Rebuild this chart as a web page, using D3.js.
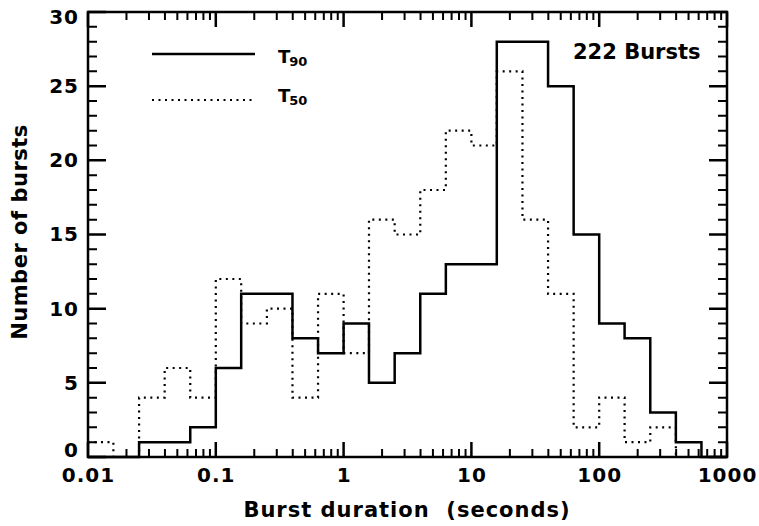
<!DOCTYPE html>
<html>
<head>
<meta charset="utf-8">
<script src="https://cdn.jsdelivr.net/npm/d3@7"></script>
<style>
  body { margin: 0; background: #fff; }
  svg { display: block; }
  text { font-family: "DejaVu Sans", sans-serif; font-weight: bold; fill: #000; }
</style>
</head>
<body>
<script>
/********************************************************/
// histogram data, 5 bins per decade
const binEdges = [0.01, 0.0158, 0.0251, 0.0398, 0.0631, 0.1, 0.158, 0.251, 0.398, 0.631,
  1, 1.58, 2.51, 3.98, 6.31, 10, 15.8, 25.1, 39.8, 63.1, 100, 158, 251, 398, 631, 1000];

const t90Counts = [0, 0, 1, 1, 2, 6, 11, 11, 8, 7, 9, 5, 7, 11, 13, 13, 28, 28, 25, 15, 9, 8, 3, 1, 0];
const t50Counts = [1, 0, 4, 6, 4, 12, 9, 10, 4, 11, 7, 16, 15, 18, 22, 21, 26, 16, 11, 2, 4, 1, 2, 0, 0];

const xTickValues = [0.01, 0.1, 1, 10, 100, 1000];
const xTickLabels = ["0.01", "0.1", "1", "10", "100", "1000"];
const yTickValues = [0, 5, 10, 15, 20, 25, 30];

/********************************************************/
// SVG area dimensions
const svgWidth = 759;
const svgHeight = 526;

const chartMargin = {
  top: 12,
  right: 32,
  bottom: 69,
  left: 88,
};

const chartWidth = svgWidth - chartMargin.left - chartMargin.right;
const chartHeight = svgHeight - chartMargin.top - chartMargin.bottom;

const svg = d3
  .select("body")
  .append("svg")
  .attr("height", svgHeight)
  .attr("width", svgWidth);

const chartGroup = svg
  .append("g")
  .attr("transform", `translate(${chartMargin.left}, ${chartMargin.top})`);

/************** scales ************/
const xScale = d3.scaleLog().domain([0.01, 1000]).range([0, chartWidth]);
const yScale = d3.scaleLinear().domain([0, 30]).range([chartHeight, 0]);

// minor ticks: the 2..9 ticks of each decade, and every unit on y
const xMinor = xScale.ticks().filter((v) => !xTickValues.includes(v));
const yMinor = yScale.ticks(30).filter((v) => v % 5 !== 0);

/************** axis labels (d3 axes, tick lines drawn separately) ************/
function styleAxis(g) {
  g.select(".domain").remove();
  g.selectAll(".tick line").remove();
  g.selectAll(".tick text").attr("font-size", "20px").attr("fill", "#000").style("letter-spacing", "1px");
}

chartGroup.append("g")
  .attr("transform", `translate(0, ${chartHeight})`)
  .call(d3.axisBottom(xScale).tickValues(xTickValues).tickSize(0).tickPadding(11)
    .tickFormat((d, i) => xTickLabels[i]))
  .call(styleAxis);

const leftAxis = chartGroup.append("g")
  .call(d3.axisLeft(yScale).tickValues(yTickValues).tickSize(0).tickPadding(9))
  .call(styleAxis);
// the end labels sit inside the axis range, as in the original plot
leftAxis.selectAll(".tick text")
  .attr("dy", (d) => (d === 0 ? "-0.05em" : d === 30 ? "0.55em" : "0.32em"));

/************** histogram steps ************/
function stepPoints(counts) {
  const pts = counts.map((c, i) => [binEdges[i], c]);
  pts.push([binEdges[binEdges.length - 1], counts[counts.length - 1]]);
  return pts;
}

const stepLine = d3.line()
  .x((d) => xScale(d[0]))
  .y((d) => yScale(d[1]))
  .curve(d3.curveStepAfter);

chartGroup.append("path")
  .attr("d", stepLine(stepPoints(t50Counts)))
  .attr("fill", "none")
  .attr("stroke", "#000")
  .attr("stroke-width", 2.2)
  .attr("stroke-dasharray", "2,4.5");

chartGroup.append("path")
  .attr("d", stepLine(stepPoints(t90Counts)))
  .attr("fill", "none")
  .attr("stroke", "#000")
  .attr("stroke-width", 2.5);

// frame
chartGroup.append("rect")
  .attr("width", chartWidth)
  .attr("height", chartHeight)
  .attr("fill", "none")
  .attr("stroke", "#000")
  .attr("stroke-width", 2.5);

/************** tick marks, pointing into the plot ************/
// drawn last, one path per tick set: bottom+top for x, left+right for y
function xTickPath(values, len) {
  const p = d3.path();
  values.forEach((v) => {
    const x = xScale(v);
    p.moveTo(x, chartHeight);
    p.lineTo(x, chartHeight - len);
    p.moveTo(x, 0);
    p.lineTo(x, len);
  });
  return p.toString();
}

function yTickPath(values, len) {
  const p = d3.path();
  values.forEach((v) => {
    const y = yScale(v);
    p.moveTo(0, y);
    p.lineTo(len, y);
    p.moveTo(chartWidth, y);
    p.lineTo(chartWidth - len, y);
  });
  return p.toString();
}

const tickSets = [
  [xTickPath(xMinor, 8), 2],
  [xTickPath(xTickValues, 15), 2.5],
  [yTickPath(yMinor, 9), 2],
  [yTickPath(yTickValues, 18), 2.5],
];

const tickGroup = svg.append("g")
  .attr("transform", `translate(${chartMargin.left}, ${chartMargin.top})`);

tickSets.forEach(([d, w]) => {
  tickGroup.append("path")
    .attr("d", d)
    .attr("fill", "none")
    .attr("stroke", "black")
    .attr("stroke-width", w);
});

/************** legend ************/
const legend = svg.append("g");
legend.append("line")
  .attr("x1", 152).attr("x2", 255).attr("y1", 54).attr("y2", 54)
  .attr("stroke", "#000").attr("stroke-width", 2.5);
legend.append("line")
  .attr("x1", 152).attr("x2", 255).attr("y1", 100).attr("y2", 100)
  .attr("stroke", "#000").attr("stroke-width", 2.2).attr("stroke-dasharray", "2,4.5");

[["90", 63], ["50", 102]].forEach(([sub, y]) => {
  const t = legend.append("text").attr("x", 278).attr("y", y).attr("font-size", "18px");
  t.append("tspan").text("T");
  t.append("tspan").text(sub).attr("font-size", "13px").attr("dy", 3).attr("dx", -1);
});

svg.append("text")
  .text("222 Bursts")
  .attr("x", 573)
  .attr("y", 59)
  .attr("font-size", "21px");

/************** axis titles ************/
svg.append("text")
  .text("Burst duration  (seconds)")
  .attr("x", 407)
  .attr("y", 517)
  .attr("text-anchor", "middle")
  .attr("font-size", "21px")
  .style("white-space", "pre")
  .style("letter-spacing", "1px");

svg.append("text")
  .text("Number of bursts")
  .attr("transform", "translate(27, 232) rotate(-90)")
  .attr("text-anchor", "middle")
  .attr("font-size", "21px")
  .style("letter-spacing", "0.5px");
</script>
</body>
</html>
